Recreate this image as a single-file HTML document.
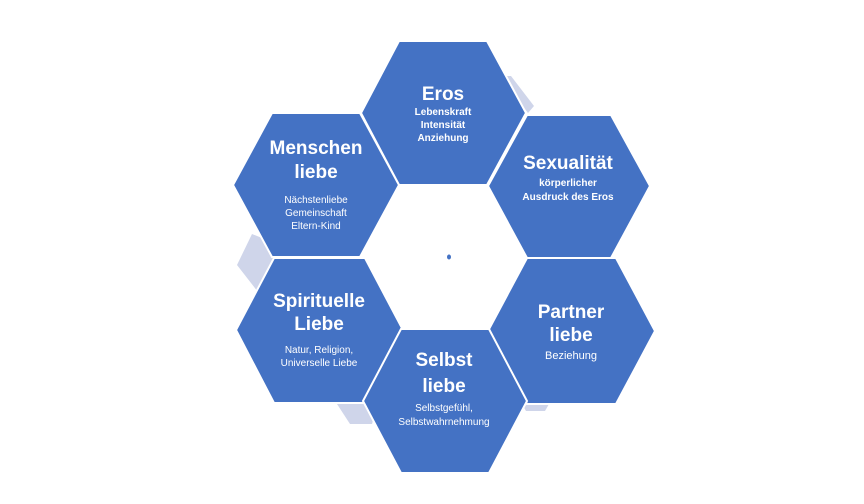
<!DOCTYPE html>
<html><head><meta charset="utf-8"><style>
html,body{margin:0;padding:0;background:#fff;}
svg{display:block;}
text{font-family:"Liberation Sans",sans-serif;fill:#fff;text-anchor:middle;}
.t{font-size:19px;font-weight:bold;}
.sb{font-size:10px;font-weight:bold;}
.s{font-size:10px;}
</style></head><body>
<svg width="864" height="504" viewBox="0 0 864 504" xmlns="http://www.w3.org/2000/svg">
<g fill="#cfd5ea">
<polygon points="500,76 511,76 534,106 528,113"/>
<polygon points="252,234 262,238 276,258 258,292 237,265"/>
<polygon points="337,404 378,404 372,424 350,424"/>
<polygon points="522,404 549,404 545,411 526,411"/>
<polygon points="621,232 625,232 618,247 614,247"/>
</g>
<g fill="#4472c4" stroke="#fff" stroke-width="2">
<polygon points="361,113 399,41 487,41 526,113 487,185 399,185"/>
<polygon points="233,185 272,113 360,113 399,185 360,257 272,257"/>
<polygon points="488,186 527,115 611,115 650,186 611,258 527,258"/>
<polygon points="236,330 274,258 365,258 403,330 365,403 274,403"/>
<polygon points="488,331 527,258 616,258 655,331 616,404 527,404"/>
<polygon points="363,401 401,329 489,329 527,401 489,473 401,473"/>
</g>
<ellipse cx="449" cy="257" rx="2" ry="2.5" fill="#4472c4"/>
<text class="t" x="443" y="100">Eros</text>
<text class="sb" x="443" y="115">Lebenskraft</text>
<text class="sb" x="443" y="128">Intensität</text>
<text class="sb" x="443" y="141">Anziehung</text>
<text class="t" x="316" y="154">Menschen</text>
<text class="t" x="316" y="178">liebe</text>
<text class="s" x="316" y="203">Nächstenliebe</text>
<text class="s" x="316" y="216">Gemeinschaft</text>
<text class="s" x="316" y="229">Eltern-Kind</text>
<text class="t" x="568" y="169">Sexualität</text>
<text class="sb" x="568" y="186">körperlicher</text>
<text class="sb" x="568" y="200">Ausdruck des Eros</text>
<text class="t" x="319" y="307">Spirituelle</text>
<text class="t" x="319" y="330">Liebe</text>
<text class="s" x="319" y="353">Natur, Religion,</text>
<text class="s" x="319" y="366">Universelle Liebe</text>
<text class="t" x="571" y="318">Partner</text>
<text class="t" x="571" y="341">liebe</text>
<text class="s" x="571" y="359" style="font-size:11px">Beziehung</text>
<text class="t" x="444" y="366">Selbst</text>
<text class="t" x="444" y="392">liebe</text>
<text class="s" x="444" y="411">Selbstgefühl,</text>
<text class="s" x="444" y="425">Selbstwahrnehmung</text>
</svg>
</body></html>
